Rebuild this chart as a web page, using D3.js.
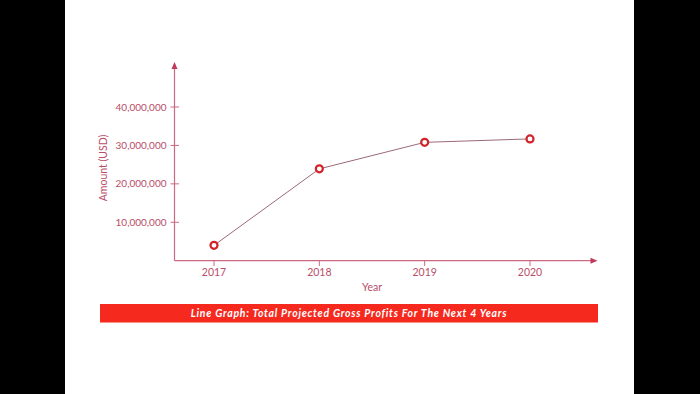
<!DOCTYPE html>
<html>
<head>
<meta charset="utf-8">
<script src="https://cdn.jsdelivr.net/npm/d3@7"></script>
<style>
  body { margin: 0; background: #000; }
  svg { display: block; }
  text { font-family: "Lato", "Open Sans", sans-serif; }
</style>
</head>
<body>
<svg width="700" height="394"></svg>
<script>
// chart data
var years = ["2017", "2018", "2019", "2020"];
var profits = [4000000, 23900000, 30800000, 31700000];
var yTicks = [10000000, 20000000, 30000000, 40000000];
var title = "Line Graph: Total Projected Gross Profits For The Next 4 Years";

var svg = d3.select("svg");
var axisColor = "#cc6a82",
    textColor = "#b94d68";

// slide background
svg.append("rect").attr("x", 65).attr("y", 0).attr("width", 569).attr("height", 394).attr("fill", "#fff");

var x = d3.scalePoint().domain(years).range([214, 530]);
var y = d3.scaleLinear().domain([0, 40000000]).range([260.7, 107]);

var g = svg.append("g");

// axes lines with arrows
g.append("line").attr("x1", 174.5).attr("y1", 260.7).attr("x2", 174.5).attr("y2", 65)
  .attr("stroke", axisColor).attr("stroke-width", 1.2);
g.append("path").attr("d", "M174.5,62 L171.5,69 L177.5,69 Z").attr("fill", "#c0395a");
g.append("line").attr("x1", 174.5).attr("y1", 260.7).attr("x2", 594).attr("y2", 260.7)
  .attr("stroke", axisColor).attr("stroke-width", 1.2);
g.append("path").attr("d", "M597.5,260.7 L590.5,257.7 L590.5,263.7 Z").attr("fill", "#c0395a");

// y ticks
var yt = g.selectAll(".ytick").data(yTicks).enter().append("g").attr("class", "ytick");
yt.append("line")
  .attr("x1", 170.5).attr("x2", 179)
  .attr("y1", function(d) { return y(d); }).attr("y2", function(d) { return y(d); })
  .attr("stroke", axisColor).attr("stroke-width", 1);
yt.append("text")
  .attr("x", 166.5).attr("y", function(d) { return y(d); }).attr("dy", "0.35em")
  .attr("text-anchor", "end").attr("font-size", 10).attr("fill", textColor)
  .text(function(d) { return d3.format(",")(d); });

// x ticks
var xt = g.selectAll(".xtick").data(years).enter().append("g").attr("class", "xtick");
xt.append("line")
  .attr("x1", function(d) { return x(d); }).attr("x2", function(d) { return x(d); })
  .attr("y1", 260.7).attr("y2", 266)
  .attr("stroke", axisColor).attr("stroke-width", 1);
xt.append("text")
  .attr("x", function(d) { return x(d); }).attr("y", 275.5)
  .attr("text-anchor", "middle").attr("font-size", 10.5).attr("fill", textColor)
  .text(function(d) { return d; });

// axis titles
g.append("text").attr("x", 372).attr("y", 291).attr("text-anchor", "middle")
  .attr("font-size", 10.5).attr("fill", textColor).text("Year");
g.append("text").attr("transform", "translate(107,168) rotate(-90)").attr("text-anchor", "middle")
  .attr("font-size", 10.5).attr("fill", textColor).text("Amount (USD)");

// the line
var line = d3.line()
  .x(function(d, i) { return x(years[i]); })
  .y(function(d) { return y(d); });
g.append("path").datum(profits).attr("d", line)
  .attr("fill", "none").attr("stroke", "#9c6a78").attr("stroke-width", 1);

g.selectAll(".dot").data(profits).enter().append("circle")
  .attr("cx", function(d, i) { return x(years[i]); })
  .attr("cy", function(d) { return y(d); })
  .attr("r", 3.5)
  .attr("fill", "#fff").attr("stroke", "#d2232a").attr("stroke-width", 2.2);

// title banner
svg.append("rect").attr("x", 100).attr("y", 304).attr("width", 498).attr("height", 18.5).attr("fill", "#f6291f");
svg.append("text").attr("x", 349).attr("y", 313.5).attr("dy", "0.35em").attr("text-anchor", "middle")
  .attr("font-size", 10.5).attr("font-style", "italic").attr("font-weight", "bold")
  .attr("letter-spacing", 0.75).attr("fill", "#fff")
  .text(title);
</script>
</body>
</html>
